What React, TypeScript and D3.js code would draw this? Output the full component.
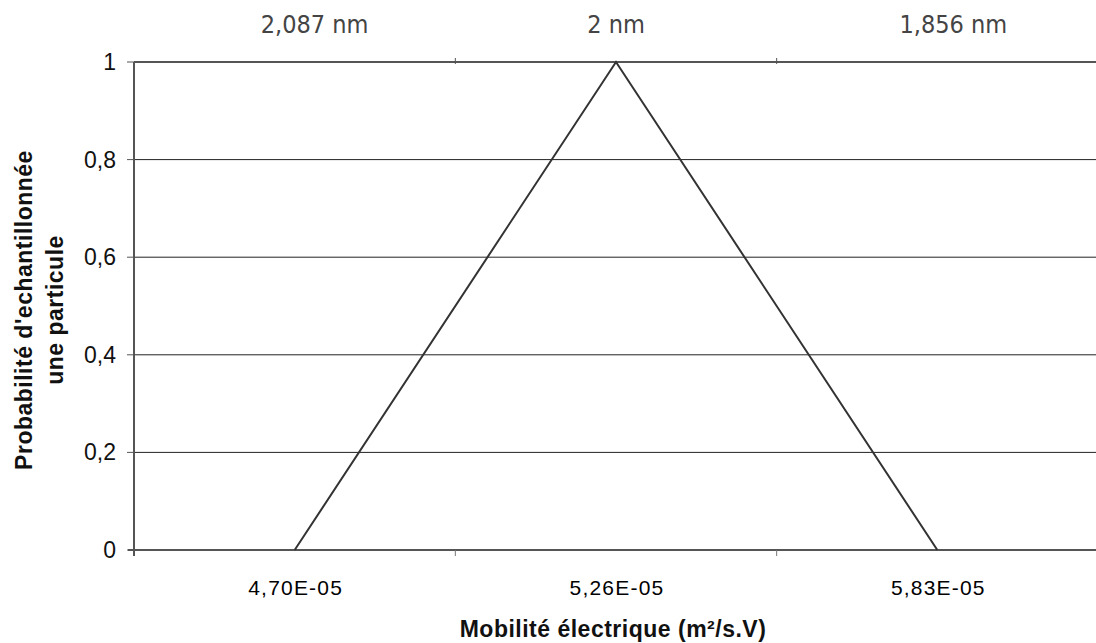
import React from "react";
import * as d3 from "d3";

const categories = ["4,70E-05", "5,26E-05", "5,83E-05"];
const topLabels = ["2,087 nm", "2 nm", "1,856 nm"];
const probability = [0, 1, 0];
const yTicks = [0, 0.2, 0.4, 0.6, 0.8, 1];

export default function App() {
  const W = 1096, H = 643;
  const left = 134, right = 1096, top = 62, bottom = 550;
  const x = d3.scaleBand<string>().domain(categories).range([left, right + 2]);
  const y = d3.scaleLinear().domain([0, 1]).range([bottom, top]);
  const cx = (c: string) => (x(c) as number) + x.bandwidth() / 2;
  const line = d3
    .line<number>()
    .x((_, i) => cx(categories[i]))
    .y((d) => y(d));
  const fmt = (v: number) => (v === 0 || v === 1 ? String(v) : v.toFixed(1).replace(".", ","));
  const bounds = categories.slice(1).map((c) => x(c) as number);
  const topOffsets = [20, 0, 16];

  return (
    <svg
      width={W}
      height={H}
      style={{ position: "absolute", left: 0, top: 0, background: "#fff" }}
      fontFamily="Liberation Sans, Arial, sans-serif"
    >
      {yTicks.filter((t) => t > 0 && t < 1).map((t) => (
        <line key={t} x1={left} x2={right} y1={y(t)} y2={y(t)} stroke="#222" strokeWidth={1} />
      ))}
      {/* top axis */}
      <line x1={left} x2={right} y1={y(1)} y2={y(1)} stroke="#555" strokeWidth={2} />
      {bounds.map((b) => (
        <line key={"tt" + b} x1={b} x2={b} y1={y(1) - 4} y2={y(1) + 2} stroke="#555" strokeWidth={1} />
      ))}
      {/* bottom axis */}
      <line x1={left - 6} x2={right} y1={bottom} y2={bottom} stroke="#555" strokeWidth={2} />
      {bounds.map((b) => (
        <line key={"bt" + b} x1={b} x2={b} y1={bottom} y2={bottom + 6} stroke="#777" strokeWidth={1} />
      ))}
      {/* left axis */}
      <line x1={left} x2={left} y1={top} y2={bottom + 6} stroke="#555" strokeWidth={2} />
      {yTicks.map((t) => (
        <g key={"yt" + t}>
          <line x1={left - 7} x2={left} y1={y(t)} y2={y(t)} stroke="#555" strokeWidth={1} />
          <text x={116} y={y(t) + 8} textAnchor="end" fontSize={23} fill="#111">
            {fmt(t)}
          </text>
        </g>
      ))}
      <path d={line(probability) as string} fill="none" stroke="#333" strokeWidth={2} />
      {categories.map((c) => (
        <text
          key={c}
          x={cx(c) + 1}
          y={595}
          textAnchor="middle"
          fontSize={21}
          letterSpacing={1.2}
          fill="#000"
        >
          {c}
        </text>
      ))}
      {topLabels.map((l, i) => (
        <text
          key={l}
          x={cx(categories[i]) + topOffsets[i]}
          y={33}
          textAnchor="middle"
          fontSize={25}
          fill="#444"
          fontFamily="DejaVu Sans Condensed, DejaVu Sans, sans-serif"
          style={{ fontStretch: "condensed" }}
        >
          {l}
        </text>
      ))}
      <text
        x={613}
        y={637}
        textAnchor="middle"
        fontSize={23}
        letterSpacing={0.5}
        fontWeight="bold"
        fill="#111"
      >
        Mobilité électrique (m²/s.V)
      </text>
      <g transform="translate(0,310) rotate(-90)">
        <text x={0} y={32} textAnchor="middle" fontSize={23} letterSpacing={0.5} fontWeight="bold" fill="#111">
          Probabilité d'echantillonnée
        </text>
        <text x={0} y={63} textAnchor="middle" fontSize={23} letterSpacing={0.5} fontWeight="bold" fill="#111">
          une particule
        </text>
      </g>
    </svg>
  );
}
